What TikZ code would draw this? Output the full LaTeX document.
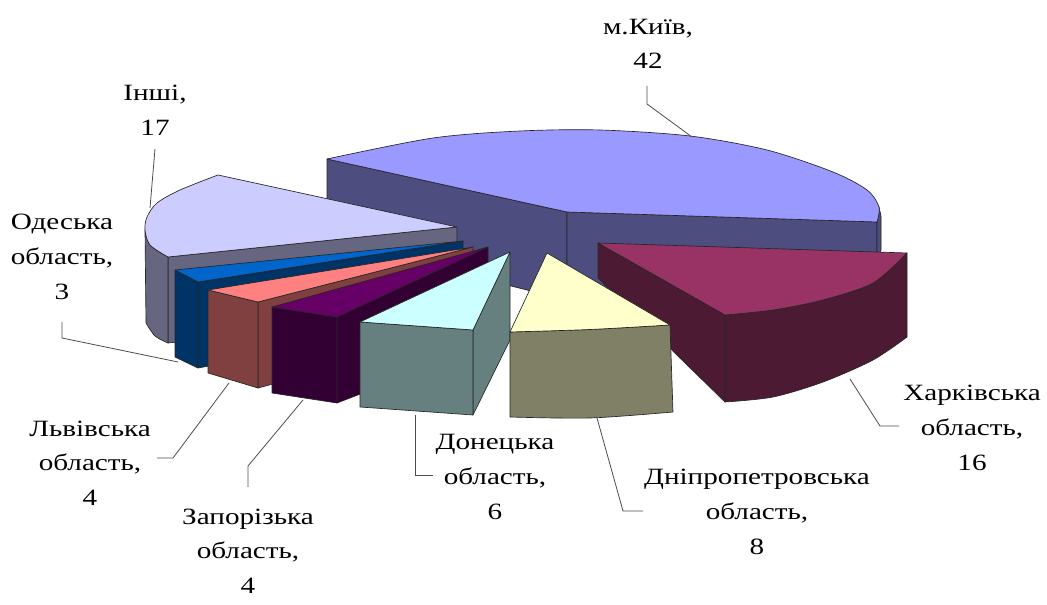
\documentclass[tikz,border=0pt]{standalone}
\usepackage{fontspec}
\setmainfont{Liberation Serif}[FakeStretch=1.25]
\usetikzlibrary{positioning}

\definecolor{kyivtop}{HTML}{9999FF}
\definecolor{kyivside}{HTML}{4D4D80}
\definecolor{inshitop}{HTML}{CCCCFF}
\definecolor{inshiside}{HTML}{666680}
\definecolor{odesatop}{HTML}{0066CC}
\definecolor{odesaside}{HTML}{003366}
\definecolor{lvivtop}{HTML}{FF8080}
\definecolor{lvivside}{HTML}{804040}
\definecolor{zaportop}{HTML}{660066}
\definecolor{zaporside}{HTML}{330033}
\definecolor{kharktop}{HTML}{993366}
\definecolor{kharkside}{HTML}{4D1A33}
\definecolor{dniprotop}{HTML}{FFFFCC}
\definecolor{dniproside}{HTML}{808066}
\definecolor{donettop}{HTML}{CCFFFF}
\definecolor{donetside}{HTML}{668080}

\tikzset{
  slice/.style={draw=black!85, line width=0.5pt, line join=round},
  lbl/.style={align=center, inner sep=0pt, font=\fontsize{17.5}{26}\selectfont},
  leader/.style={draw=black!70, line width=0.6pt},
}

\begin{document}
\begin{tikzpicture}[x=0.75pt, y=-0.75pt]
\useasboundingbox (0,0) rectangle (1047,605);

% Kyiv slice (back)
\filldraw[slice, fill=kyivside] (327,159) -- (567,212) -- (567,300) -- (327,240) -- cycle;
\filldraw[slice, fill=kyivside] (567,212) -- (877,222) -- (877,305) -- (567,300) -- cycle;
\filldraw[slice, fill=kyivside] (879,207) -- (881,216) -- (881,250) -- (877,258) -- (877,222) -- cycle;
\filldraw[slice, fill=kyivtop] plot[smooth] coordinates {(327,159) (433,138) (520,131) (600,130) (690,136) (767,150) (833,172) (867,190) (879,207) (877,222)} -- (567,212) -- cycle;

% Inshi slice
\filldraw[slice, fill=inshiside] (168,257) -- (457,227) -- (457,312) -- (168,343) -- cycle;
\filldraw[slice, fill=inshiside] plot[smooth] coordinates {(145,230) (150,245) (168,257)} -- (168,343) -- plot[smooth] coordinates {(168,343) (155,336) (146,323)} -- cycle;
\filldraw[slice, fill=inshitop] plot[smooth] coordinates {(218,175) (180,190) (157,203) (147,217) (145,230) (150,245) (168,257)} -- (457,227) -- cycle;

% Odesa slice
\filldraw[slice, fill=odesaside] (198,282) -- (463,241) -- (463,320) -- (198,368) -- cycle;
\filldraw[slice, fill=odesaside] (175,270) -- (198,282) -- (198,368) -- (175,357) -- cycle;
\filldraw[slice, fill=odesatop] (175,270) -- (198,282) -- (463,241) -- cycle;

% Lviv slice
\filldraw[slice, fill=lvivside] (258,302) -- (473,247) -- (473,330) -- (258,388) -- cycle;
\filldraw[slice, fill=lvivside] (208,290) -- (258,302) -- (258,388) -- (208,373) -- cycle;
\filldraw[slice, fill=lvivtop] (208,290) -- (258,302) -- (473,247) -- cycle;

% Zaporizhzhia slice
\filldraw[slice, fill=zaporside] (337,317) -- (488,247) -- (488,345) -- (337,403) -- cycle;
\filldraw[slice, fill=zaporside] (272,307) -- (337,317) -- (337,403) -- (272,393) -- cycle;
\filldraw[slice, fill=zaportop] (272,307) -- (337,317) -- (488,247) -- cycle;

% Kharkiv slice
\filldraw[slice, fill=kharkside] (598,243) -- (725,315) -- (725,402) -- (598,278) -- cycle;
\filldraw[slice, fill=kharkside] plot[smooth] coordinates {(725,315) (773,310) (823,300) (873,283) (907,253)} -- (907,337) -- plot[smooth] coordinates {(907,337) (873,360) (823,382) (773,397) (725,402)} -- cycle;
\filldraw[slice, fill=kharktop] (598,243) -- (907,253) -- plot[smooth] coordinates {(907,253) (873,283) (823,300) (773,310) (725,315)} -- cycle;

% Donetsk slice
\filldraw[slice, fill=donetside] (473,330) -- (510,252) -- (510,340) -- (473,415) -- cycle;
\filldraw[slice, fill=donetside] (360,322) -- (473,330) -- (473,415) -- (360,407) -- cycle;
\filldraw[slice, fill=donettop] (360,322) -- (473,330) -- (510,252) -- cycle;

% Dnipro slice
\filldraw[slice, fill=dniproside] plot[smooth] coordinates {(510,332) (590,329.5) (670,325)} -- (673,412) -- plot[smooth] coordinates {(673,412) (590,418) (510,417)} -- cycle;
\filldraw[slice, fill=dniprotop] (547,253) -- (510,332) -- plot[smooth] coordinates {(510,332) (590,329.5) (670,325)} -- cycle;

% Labels
\node[lbl] (kyiv)    at (648,44)  {м.Київ,\\42};
\node[lbl] (inshi)   at (155,110) {Інші,\\17};
\node[lbl] (odesa)   at (62,257)  {Одеська\\область,\\3};
\node[lbl] (lviv)    at (90,463)  {Львівська\\область,\\4};
\node[lbl] (zapor)   at (248,551) {Запорізька\\область,\\4};
\node[lbl] (donetsk) at (495,477) {Донецька\\область,\\6};
\node[lbl] (dnipro)  at (757,512) {Дніпропетровська\\область,\\8};
\node[lbl] (kharkiv) at (972,428) {Харківська\\область,\\16};

% Leader lines
\coordinate (kyivA) at (647,86);    \coordinate (kyivB) at (647,104);   \coordinate (kyivC) at (692,137);
\coordinate (inshiA) at (155,149);  \coordinate (inshiC) at (150,208);
\coordinate (odesaA) at (62,322);   \coordinate (odesaB) at (62,338);   \coordinate (odesaC) at (178,362);
\coordinate (lvivA) at (157,458);   \coordinate (lvivB) at (173,458);   \coordinate (lvivC) at (229,383);
\coordinate (zaporA) at (248,487);  \coordinate (zaporB) at (248,466);  \coordinate (zaporC) at (303,400);
\coordinate (donetA) at (433,475);  \coordinate (donetB) at (415,475);  \coordinate (donetC) at (415,415);
\coordinate (dniproA) at (643,511); \coordinate (dniproB) at (623,511); \coordinate (dniproC) at (597,418);
\coordinate (kharkA) at (899,426);  \coordinate (kharkB) at (880,426);  \coordinate (kharkC) at (850,379);

\draw[leader] (kyivA) -- (kyivB) -- (kyivC);
\draw[leader] (inshiA) -- (inshiC);
\draw[leader] (odesaA) -- (odesaB) -- (odesaC);
\draw[leader] (lvivA) -- (lvivB) -- (lvivC);
\draw[leader] (zaporA) -- (zaporB) -- (zaporC);
\draw[leader] (donetA) -- (donetB) -- (donetC);
\draw[leader] (dniproA) -- (dniproB) -- (dniproC);
\draw[leader] (kharkA) -- (kharkB) -- (kharkC);

\end{tikzpicture}
\end{document}
